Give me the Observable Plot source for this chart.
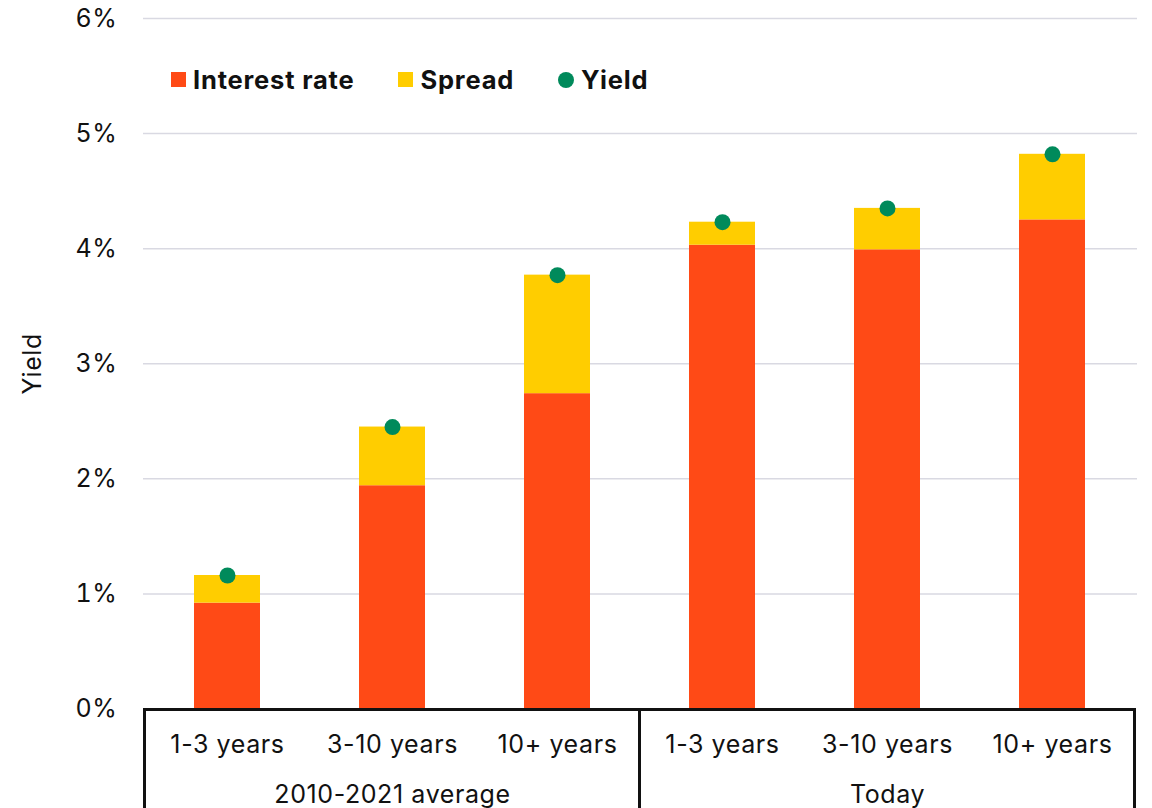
<!DOCTYPE html>
<html>
<head>
<meta charset="utf-8">
<script src="https://cdn.jsdelivr.net/npm/d3@7"></script>
<script src="https://cdn.jsdelivr.net/npm/@observablehq/plot@0.6"></script>
<style>
  html, body { margin: 0; padding: 0; background: #fff; }
  #wrap { position: relative; width: 1152px; height: 808px; overflow: hidden; font-family: Inter, "Noto Sans", sans-serif; }
  #legend { position: absolute; left: 171px; top: 64px; display: flex; align-items: center; font-weight: 700; font-size: 25.5px; letter-spacing: 0.8px; color: #111; }
  .item { display: flex; align-items: center; margin-right: 44px; }
  .sw { width: 15px; height: 15px; margin-right: 7px; }
  .dot { width: 16px; height: 16px; border-radius: 50%; margin-right: 7px; }
</style>
</head>
<body>
<div id="wrap"></div>
<script>
// Average bond yields by maturity bucket, split into interest rate and credit spread (percent)
const periods = ["2010-2021 average", "2010-2021 average", "2010-2021 average", "Today", "Today", "Today"];
const terms = ["1-3 years", "3-10 years", "10+ years", "1-3 years", "3-10 years", "10+ years"];
const interestRate = [0.92, 1.94, 2.74, 4.03, 3.99, 4.25];
const spread = [0.24, 0.51, 1.03, 0.20, 0.36, 0.57];
const yieldPct = [1.16, 2.45, 3.77, 4.23, 4.35, 4.82];
const yTicks = [0, 1, 2, 3, 4, 5, 6];
const components = ["Interest rate", "Spread"];
const colors = { "Interest rate": "#FF4A16", "Spread": "#FFCD00", "Yield": "#008A5B" };

const keys = periods.map((p, i) => `${p}|${terms[i]}`);
const stacked = [
  ...keys.map((k, i) => ({ key: k, component: "Interest rate", value: interestRate[i] })),
  ...keys.map((k, i) => ({ key: k, component: "Spread", value: spread[i] }))
];
const points = keys.map((k, i) => ({ key: k, value: yieldPct[i] }));
const groups = [...new Set(periods)].map(p => {
  const ks = keys.filter((k, i) => periods[i] === p);
  return { period: p, key: ks[Math.floor(ks.length / 2)] };
});

// Bordered category table under the bars, placed from the band scale
function groupBox(index, scales, values, dims) {
  const x = scales.x;
  const step = x(keys[1]) - x(keys[0]);
  const gap = step - x.bandwidth();
  const y0 = scales.y(0);
  const g = d3.create("svg:g").attr("stroke", "#111").attr("stroke-width", 3).attr("fill", "none");
  const left = x(keys[0]) - gap / 2;
  const right = x(keys[keys.length - 1]) + x.bandwidth() + gap / 2;
  g.append("line").attr("x1", left - 1.5).attr("x2", right + 1.5).attr("y1", y0 + 1).attr("y2", y0 + 1);
  const edges = [left];
  periods.forEach((p, i) => { if (i > 0 && p !== periods[i - 1]) edges.push(x(keys[i]) - gap / 2); });
  edges.push(right);
  for (const e of edges) {
    g.append("line").attr("x1", e).attr("x2", e).attr("y1", y0 - 0.5).attr("y2", dims.height + 5);
  }
  return g.node();
}

const chart = Plot.plot({
  width: 1152,
  height: 808,
  marginLeft: 143,
  marginRight: 15,
  marginTop: 18,
  marginBottom: 99.5,
  style: { fontFamily: "Inter, 'Noto Sans', sans-serif", fontSize: "25px", letterSpacing: "0.6px", color: "#111", background: "#fff" },
  x: { domain: keys, paddingInner: 0.6, paddingOuter: 0.3 },
  y: { domain: [0, 6] },
  color: { domain: [...components, "Yield"], range: [colors["Interest rate"], colors["Spread"], colors["Yield"]] },
  marks: [
    Plot.gridY(yTicks.slice(1), { stroke: "#d9d9e2", strokeOpacity: 1, strokeWidth: 1.5 }),
    Plot.barY(stacked, { x: "key", y: "value", fill: "component" }),
    Plot.dot(points, { x: "key", y: "value", r: 8, fill: colors["Yield"] }),
    Plot.axisY({ ticks: yTicks, tickSize: 0, tickPadding: 26, tickFormat: d => `${d}%`, fontSize: 25,
                 label: "Yield", labelAnchor: "center", labelArrow: "none", labelOffset: 120 }),
    Plot.axisX({ tickSize: 0, tickPadding: 26, tickFormat: k => k.split("|")[1], fontSize: 25, label: null }),
    Plot.text(groups, { x: "key", y: () => 0, text: "period", lineAnchor: "top", dy: 76, fontSize: 25 }),
    groupBox
  ]
});

const wrap = document.getElementById("wrap");
wrap.appendChild(chart);

const legend = document.createElement("div");
legend.id = "legend";
legend.innerHTML = `
  <div class="item"><span class="sw" style="background:${colors["Interest rate"]}"></span>Interest rate</div>
  <div class="item"><span class="sw" style="background:${colors["Spread"]}"></span>Spread</div>
  <div class="item"><span class="dot" style="background:${colors["Yield"]}"></span>Yield</div>`;
wrap.appendChild(legend);
</script>
</body>
</html>
